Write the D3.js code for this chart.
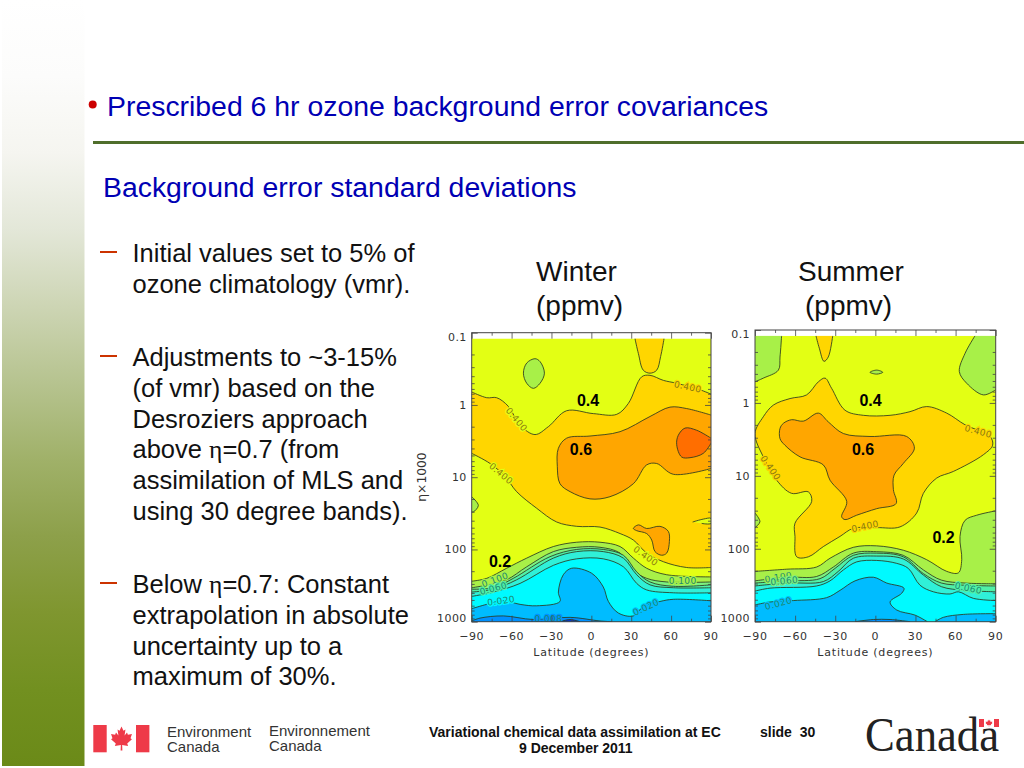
<!DOCTYPE html>
<html>
<head>
<meta charset="utf-8">
<script src="https://cdn.jsdelivr.net/npm/d3@7"></script>
<style>
html,body{margin:0;padding:0;background:#fff;}
svg{display:block;font-family:"Liberation Sans",Arial,sans-serif;}
</style>
</head>
<body>
<div id="chart"></div>
<script>
// ---------- text content ----------
const slideTitle = "Prescribed 6 hr ozone background error covariances";
const slideSubtitle = "Background error standard deviations";
const bulletBlocks = [
  ["Initial values set to 5% of", "ozone climatology (vmr)."],
  ["Adjustments to ~3-15%", "(of vmr) based on the", "Desroziers approach", "above η=0.7 (from", "assimilation of MLS and", "using 30 degree bands)."],
  ["Below η=0.7: Constant", "extrapolation in absolute", "uncertainty up to a", "maximum of 30%."]
];
const latTicks = [-90,-60,-30,0,30,60,90];
const latMinorTicks = [-75,-45,-15,15,45,75];
const etaTicks = [0.1,1,10,100,1000];
const etaLabels = ["0.1","1","10","100","1000"];

// ---------- contours: [latitude, log10(eta*1000)] ----------
const winterGoldTop = [[-90,-.18],[-78.7,-.10],[-71.2,-.10],[-62.4,.02],[-53.6,.28],[-42.4,.41],[-32.3,.30],[-18.6,.08],[1.5,.12],[19.1,.13],[27.8,-.02],[37.9,-.39],[44.1,-.41],[54.2,-.34],[64.2,-.30],[81.7,-.21],[90,-.15]];
const winterGoldBottom = [[90,2.25],[71.7,2.25],[54.2,2.17],[41.6,2.05],[31.6,1.87],[21.6,1.78],[6.5,1.69],[-11,1.68],[-26.1,1.62],[-41.1,1.43],[-56.2,1.20],[-64.9,.99],[-76.2,.81],[-90,.67]];
const winterGoldCap = [[32.8,-.92],[35.4,-.71],[39.1,-.48],[44.1,-.44],[49.1,-.48],[52.1,-.67],[54.7,-.92]];
const winterSliver = [[76.2,1.62],[84.2,1.58],[90,1.57],[90,1.64],[83,1.64]];
const winterGreenBlob = [[-42.4,-.64],[-38.6,-.60],[-35.3,-.44],[-38.6,-.30],[-43.6,-.23],[-48.6,-.30],[-51.1,-.44],[-48.6,-.58]];
const winterGreenEdge = [[-90,1.27],[-85,1.39],[-88.7,1.48],[-90,1.48]];
const winterOrange = [[90,.14],[71.7,.05],[59.2,.03],[44.1,.16],[21.6,.37],[-1,.43],[-18.6,.46],[-24.8,.60],[-25.6,.85],[-23.6,1.09],[-16,1.20],[-1,1.30],[14,1.27],[31.6,1.09],[41.6,.83],[49.1,.81],[61.7,.96],[90,.88]];
const winterOrangeLow = [[31.6,1.71],[35.4,1.66],[41.6,1.71],[51.6,1.68],[57.9,1.75],[58.7,1.89],[56.7,2.05],[52.9,2.08],[47.9,2.03],[45.4,1.87],[41.6,1.78],[34.1,1.74]];
const winterDeepOrange = [[90,.46],[79.2,.35],[70.5,.32],[65.4,.42],[64.2,.55],[67.9,.72],[74.2,.73],[84.2,.67],[90,.53]];
const winterL200 = [[-90,2.44],[-78.7,2.40],[-63.7,2.26],[-48.6,2.12],[-28.6,1.96],[-11,1.90],[6.5,1.90],[21.6,1.96],[31.6,2.12],[41.6,2.26],[56.7,2.35],[90,2.38]];
const winterL100 = [[-90,2.53],[-77.5,2.49],[-63.7,2.42],[-48.6,2.24],[-28.6,2.03],[-11,1.97],[6.5,1.97],[21.6,2.05],[31.6,2.29],[41.6,2.40],[56.7,2.45],[90,2.45]];
const winterL080 = [[-90,2.55],[-73.7,2.53],[-58.7,2.40],[-31.1,2.10],[-11,2.00],[9,2.00],[24.1,2.08],[34.1,2.31],[44.1,2.45],[61.7,2.51],[90,2.49]];
const winterL060 = [[-90,2.59],[-73.7,2.55],[-56.2,2.42],[-28.6,2.12],[-11,2.03],[9,2.03],[24.1,2.12],[34.1,2.35],[44.1,2.49],[61.7,2.53],[90,2.53]];
const winterL040 = [[-90,2.65],[-73.7,2.59],[-53.6,2.47],[-28.6,2.22],[-11,2.13],[9,2.13],[24.1,2.24],[34.1,2.47],[41.6,2.56],[61.7,2.60],[90,2.60]];
const winterL020 = [[-90,2.82],[-78.7,2.76],[-66.2,2.71],[-53.6,2.76],[-41.1,2.78],[-23.6,2.72],[-24.8,2.59],[-21.1,2.35],[-14.8,2.26],[.3,2.33],[9,2.52],[12.8,2.72],[20.3,2.88],[31.6,2.92],[39.1,2.79],[51.6,2.72],[61.7,2.69],[90,2.71]];
const winterL010 = [[-90,2.99],[-83.7,2.95],[-66.2,2.92],[-43.6,2.97],[-16,2.94],[6.5,2.99],[15.3,3.0]];
const winterL006 = [[-23.6,3],[-16,2.97],[-8.5,3]];

const summerGreenLeft = [[-70.1,-.92],[-71.3,-.63],[-72.5,-.45],[-83.8,-.34],[-90,-.29]];
const summerGreenRight = [[74.5,-.92],[67.1,-.68],[62.8,-.43],[68.3,-.27],[80.8,-.11],[90,-.18]];
const summerGreenSpot = [[-4,-.42],[1,-.45],[5.5,-.42],[1,-.395]];
const summerGreenEdge = [[-90,1.51],[-86.3,1.63],[-90,1.71]];
const summerGold = [[-90,.42],[-83.8,.19],[-76.3,.03],[-63.8,-.06],[-51.4,-.11],[-42.6,-.29],[-37.6,-.34],[-32.7,-.20],[-22.7,.10],[-9,.17],[11,.17],[25.9,.12],[38.4,.05],[53.4,.14],[67.1,.30],[85.8,.46],[87.7,.58],[80.8,.71],[58.3,.94],[45.9,1.03],[35.9,1.24],[30.9,1.51],[18.4,1.70],[1,1.71],[-16.5,1.72],[-26.4,1.83],[-38.9,1.97],[-50.1,2.11],[-58.8,2.11],[-60.1,1.83],[-60.1,1.65],[-47.6,1.35],[-50.1,1.22],[-62.6,1.24],[-73.8,1.06],[-83.8,.74]];
const summerGoldCap = [[-44.4,-.92],[-41.9,-.75],[-38.4,-.57],[-35.2,-.63],[-31.9,-.92]];
const summerOrange = [[-71.3,.35],[-68.8,.28],[-62.6,.23],[-53.9,.25],[-42.6,.14],[-35.2,.26],[-23.9,.42],[-4,.46],[23.4,.46],[29.2,.62],[20.9,.83],[14,.99],[13.5,1.19],[15.5,1.38],[1,1.45],[-14,1.54],[-22.7,1.60],[-25.2,1.56],[-21.4,1.35],[-33.9,1.06],[-38.9,.85],[-56.3,.74],[-67.6,.58],[-71.3,.49]];
const summerL200 = [[-90,2.31],[-66.3,2.28],[-43.9,2.25],[-33.9,2.13],[-16.5,1.98],[1,1.96],[20.9,2.02],[38.4,2.15],[53.4,2.31],[62.1,2.33],[64.6,2.15],[63.3,1.83],[67.1,1.61],[75.8,1.54],[90,1.48]];
const summerL100 = [[-90,2.44],[-66.3,2.39],[-43.9,2.38],[-31.4,2.25],[-16.5,2.06],[1,2.04],[20.9,2.09],[35.9,2.29],[49.4,2.43],[67.1,2.47],[90,2.48]];
const summerL080 = [[-90,2.47],[-66.3,2.44],[-41.4,2.41],[-30.2,2.27],[-16.5,2.09],[1,2.06],[20.9,2.11],[35.9,2.34],[49.4,2.47],[67.1,2.50],[90,2.51]];
const summerL060 = [[-90,2.51],[-66.3,2.47],[-38.9,2.45],[-27.7,2.31],[-16.5,2.13],[1,2.10],[20.9,2.14],[35.9,2.36],[49.4,2.52],[67.1,2.57],[90,2.59]];
const summerL040 = [[-90,2.58],[-78.8,2.54],[-43.9,2.51],[-33.9,2.44],[-23.9,2.29],[-14,2.18],[1,2.16],[16,2.20],[24.7,2.27],[33.4,2.50],[43.4,2.59],[55.8,2.62],[62.1,2.59],[73.3,2.68],[90,2.71]];
const summerL020 = [[-90,2.77],[-78.8,2.73],[-61.3,2.71],[-36.4,2.67],[-26.4,2.57],[-15.2,2.44],[-1.5,2.39],[8.5,2.47],[21.4,2.54],[19.7,2.61],[11,2.73],[16,2.84],[29.7,2.91],[38.9,3.0]];
const summerL020Right = [[44.6,3],[50.9,2.94],[65.8,2.90],[90,2.89]];
const summerL010 = [[-15.2,3],[-1.5,2.97],[11,2.97],[26,3]];

const winterLabels = [["0.400",72.5,-.25,12],["0.400",-56.2,.20,50],["0.400",-67.9,.95,40],["0.100",-72.5,2.42,-20],["0.060",-73.7,2.54,-15],["0.020",-67.9,2.71,-8],["0.400",40.9,2.09,35],["0.100",68.7,2.43,0],["0.020",41.1,2.80,-25],["0.008",-32.3,2.96,0]];
const summerLabels = [["0.400",77,.39,15],["0.400",-78.3,.89,55],["0.400",-7.7,1.69,-12],["0.100",-72.5,2.39,-10],["0.060",-68.1,2.44,-5],["0.020",-72.5,2.75,-15],["0.060",69.6,2.54,12]];
const winterAnnotations = [["0.4",-2.5,-.07],["0.6",-7.8,.61],["0.2",-68.7,2.17]];
const summerAnnotations = [["0.4",-3.6,-.04],["0.6",-9.2,.63],["0.2",51,1.84]];

// ---------- colours ----------
const colBase="#e3ff14", colGold="#ffd600", colOrange="#ffa600", colDeep="#ff6e00",
      colLime="#a8f048", colGreen="#7cf080", colMint="#50f0a8", colAqua="#30f0d8",
      colCyan="#00faff", colBlue="#00bcff", colRoyal="#0090ff", colNavy="#0038d0";
const winterLayers = [
  {c:colLime, s:[winterGreenBlob], closed:true},
  {c:colLime, s:[winterGreenEdge]},
  {c:colGold, s:[winterGoldTop,winterGoldBottom]},
  {c:colGold, s:[winterGoldCap]},
  {c:colBase, s:[winterSliver]},
  {c:colOrange, s:[winterOrange]},
  {c:colOrange, s:[winterOrangeLow], closed:true},
  {c:colDeep, s:[winterDeepOrange]},
  {c:colLime, s:[winterL200], floor:true},
  {c:colGreen, s:[winterL100], floor:true},
  {c:colMint, s:[winterL080], floor:true},
  {c:colAqua, s:[winterL060], floor:true},
  {c:colCyan, s:[winterL040], floor:true},
  {c:colBlue, s:[winterL020], floor:true},
  {c:colRoyal, s:[winterL010], floor:true},
  {c:colNavy, s:[winterL006], floor:true}
];
const summerLayers = [
  {c:colLime, s:[summerGreenLeft], corners:[[-90,-.92]]},
  {c:colLime, s:[summerGreenRight], corners:[[90,-.92]]},
  {c:colLime, s:[summerGreenEdge]},
  {c:colGold, s:[summerGold], closed:true},
  {c:colGold, s:[summerGoldCap]},
  {c:colLime, s:[summerGreenSpot], closed:true},
  {c:colOrange, s:[summerOrange], closed:true},
  {c:colLime, s:[summerL200], floor:true},
  {c:colGreen, s:[summerL100], floor:true},
  {c:colMint, s:[summerL080], floor:true},
  {c:colAqua, s:[summerL060], floor:true},
  {c:colCyan, s:[summerL040], floor:true},
  {c:colBlue, s:[summerL020], floor:true},
  {c:colBlue, s:[summerL020Right], floor:true},
  {c:colRoyal, s:[summerL010], floor:true}
];

// ---------- page ----------
const svg = d3.select("#chart").append("svg").attr("width",1024).attr("height",768);
const defs = svg.append("defs");
const grad = defs.append("linearGradient").attr("id","strip").attr("x1",0).attr("y1",0).attr("x2",0).attr("y2",1);
[[0,"#ffffff"],[.1,"#fcfcfb"],[.2,"#f5f5f0"],[.3,"#e3e7d8"],[.4,"#cdd5b4"],[.5,"#b6c38f"],[.6,"#a0b169"],[.7,"#8da04a"],[.8,"#7f962f"],[.9,"#729020"],[1,"#6b8a18"]]
  .forEach(d=>grad.append("stop").attr("offset",d[0]).attr("stop-color",d[1]));
svg.append("rect").attr("x",2).attr("y",0).attr("width",82.5).attr("height",766).attr("fill","url(#strip)");

svg.append("circle").attr("cx",92.7).attr("cy",104.5).attr("r",4).attr("fill","#cc0000");
svg.append("text").attr("x",107).attr("y",116).attr("font-size",28.4).attr("fill","#0000b4").text(slideTitle);
svg.append("rect").attr("x",93).attr("y",141).attr("width",931).attr("height",3).attr("fill","#4f6e2b");
svg.append("text").attr("x",103).attr("y",197).attr("font-size",28.4).attr("fill","#0000b4").text(slideSubtitle);

// body text
const blockTops=[262,366,593], lineGap=30.8;
bulletBlocks.forEach((lines,b)=>{
  svg.append("rect").attr("x",100).attr("y",blockTops[b]-11).attr("width",17).attr("height",2).attr("fill","#cc3300");
  lines.forEach((ln,i)=>{
    const t=svg.append("text").attr("x",132.5).attr("y",blockTops[b]+i*lineGap).attr("font-size",25.5).attr("fill","#111");
    const parts=ln.split("η");
    t.append("tspan").text(parts[0]);
    if(parts.length>1){
      t.append("tspan").attr("font-family","Liberation Serif").text("η");
      t.append("tspan").text(parts[1]);
    }
  });
});

// panel headings
[["Winter",536,281],["(ppmv)",536,315],["Summer",798,281],["(ppmv)",805,315]].forEach(d=>
  svg.append("text").attr("x",d[1]).attr("y",d[2]).attr("font-size",28).attr("fill","#111").text(d[0]));

// ---------- panels ----------
function drawPanel(o){
  const x=d3.scaleLinear().domain([-90,90]).range([o.left,o.right]);
  const y=d3.scaleLog().domain([0.1,1000]).range([o.top,o.bottom]);
  const px=p=>[x(p[0]),y(Math.pow(10,p[1]))];
  const g=svg.append("g").attr("font-family","DejaVu Sans");
  const clipId="clip"+o.id;
  const dataTop=y(Math.pow(10,-.92));
  defs.append("clipPath").attr("id",clipId).append("rect")
    .attr("x",x(-90)).attr("y",dataTop).attr("width",x(90)-x(-90)).attr("height",y(1000)-dataTop);
  const plot=g.append("g").attr("clip-path",`url(#${clipId})`);
  plot.append("rect").attr("x",x(-90)).attr("y",dataTop).attr("width",x(90)-x(-90)).attr("height",y(1000)-dataTop).attr("fill",colBase);
  const open=d3.line().x(p=>px(p)[0]).y(p=>px(p)[1]).curve(d3.curveCatmullRom.alpha(0.5));
  const shut=d3.line().x(p=>px(p)[0]).y(p=>px(p)[1]).curve(d3.curveCatmullRomClosed.alpha(0.5));
  const fills=[];
  o.layers.forEach(l=>{
    let d;
    if(l.closed){ d=shut(l.s[0]); }
    else{
      d=l.s.map((seg,i)=>{const q=open(seg);return i?("L"+q.slice(1)):q;}).join("");
      const ext=[];
      if(l.floor){const s=l.s[0];ext.push([s[s.length-1][0],3.1],[s[0][0],3.1]);}
      if(l.corners) l.corners.forEach(c=>ext.push(c));
      ext.forEach(c=>{const q=px(c);d+=`L${q[0]},${q[1]}`;});
      d+="Z";
    }
    const node=plot.append("path").attr("d",d).attr("fill",l.c).node();
    fills.push({node,c:l.c});
    l.s.forEach(seg=>{
      plot.append("path").attr("d",l.closed?shut(seg):open(seg)).attr("fill","none").attr("stroke","#2b3a20").attr("stroke-width",.85);
    });
  });
  // contour labels, each with a halo of the colour band it sits in, which breaks the line
  const colourAt=q=>{
    const pt=svg.node().createSVGPoint();pt.x=q[0];pt.y=q[1];
    for(let i=fills.length-1;i>=0;i--){ if(fills[i].node.isPointInFill(pt)) return fills[i].c; }
    return colBase;
  };
  o.labels.forEach(lb=>{
    const q=px([lb[1],lb[2]]);
    plot.append("text").attr("transform",`translate(${q[0]},${q[1]}) rotate(${lb[3]})`)
      .attr("text-anchor","middle").attr("dy","0.35em").attr("font-size",9).attr("letter-spacing",.4)
      .attr("fill",lb[0]==="0.400"?"#8a7a10":"#1c8a70")
      .attr("stroke",colourAt(q)).attr("stroke-width",2.4).attr("paint-order","stroke")
      .text(lb[0]);
  });
  // frame and axes
  g.append("rect").attr("x",x(-90)).attr("y",y(.1)).attr("width",x(90)-x(-90)).attr("height",y(1000)-y(.1)).attr("fill","none").attr("stroke","#444").attr("stroke-width",1);
  const style=a=>{a.select(".domain").remove();a.selectAll("line").attr("stroke","#444").attr("stroke-width",.8);};
  const ax=(gen,vals,len,tx)=>{
    const a=g.append("g").attr("transform",tx).call(gen.tickValues(vals).tickSize(-len).tickFormat(""));
    style(a);return a;
  };
  const minorEta=[];
  [.1,1,10,100].forEach(dec=>[2,3,4,5,6,7,8,9].forEach(m=>minorEta.push(dec*m)));
  ax(d3.axisBottom(x),latTicks,6,`translate(0,${y(1000)})`);
  ax(d3.axisBottom(x),latMinorTicks,3,`translate(0,${y(1000)})`);
  ax(d3.axisTop(x),latTicks,6,`translate(0,${y(.1)})`);
  ax(d3.axisTop(x),latMinorTicks,3,`translate(0,${y(.1)})`);
  ax(d3.axisLeft(y),etaTicks,6,`translate(${x(-90)},0)`);
  ax(d3.axisLeft(y),minorEta,3,`translate(${x(-90)},0)`);
  ax(d3.axisRight(y),etaTicks,6,`translate(${x(90)},0)`);
  ax(d3.axisRight(y),minorEta,3,`translate(${x(90)},0)`);
  // tick labels
  latTicks.forEach(v=>g.append("text").attr("x",x(v)).attr("y",o.bottom+18).attr("text-anchor","middle")
    .attr("font-size",11).attr("letter-spacing",.6).attr("fill","#333").text(v<0?"−"+(-v):v));
  etaTicks.forEach((v,i)=>{
    const nudge=i===0?o.topNudge:(i===4?-4:0);
    g.append("text").attr("x",x(-90)-5).attr("y",y(v)+nudge+4).attr("text-anchor","end")
      .attr("font-size",11).attr("letter-spacing",.4).attr("fill","#333").text(etaLabels[i]);
  });
  g.append("text").attr("x",(x(-90)+x(90))/2).attr("y",o.bottom+34.5).attr("text-anchor","middle")
    .attr("font-size",11).attr("letter-spacing",.8).attr("fill","#333").text("Latitude (degrees)");
  // annotations
  o.notes.forEach(n=>{
    const q=px([n[1],n[2]]);
    svg.append("text").attr("x",q[0]).attr("y",q[1]).attr("dy","0.36em").attr("text-anchor","middle")
      .attr("font-size",16).attr("font-weight","bold").attr("fill","#000").text(n[0]);
  });
}
drawPanel({id:"w",left:471.7,right:711,top:332.7,bottom:621.7,topNudge:4,layers:winterLayers,labels:winterLabels,notes:winterAnnotations});
drawPanel({id:"s",left:755,right:995.7,top:330,bottom:621.7,topNudge:4,layers:summerLayers,labels:summerLabels,notes:summerAnnotations});

// y axis title
svg.append("text").attr("transform","translate(426,477) rotate(-90)").attr("text-anchor","middle")
  .attr("font-size",12.3).attr("fill","#333").attr("font-family","DejaVu Sans").text("η×1000");

// ---------- footer ----------
const leaf="M0,-1 L.18,-.65 L.36,-.75 L.28,-.25 L.5,-.5 L.58,-.32 L.95,-.38 L.82,-.02 L.95,.06 L.52,.42 L.6,.62 L.06,.55 L.08,1 L-.08,1 L-.06,.55 L-.6,.62 L-.52,.42 L-.95,.06 L-.82,-.02 L-.95,-.38 L-.58,-.32 L-.5,-.5 L-.28,-.25 L-.36,-.75 L-.18,-.65 Z";
const flagRed="#ee3a48";
svg.append("rect").attr("x",93.3).attr("y",725).attr("width",13.4).attr("height",27.3).attr("fill",flagRed);
svg.append("rect").attr("x",136).attr("y",725).attr("width",13.4).attr("height",27.3).attr("fill",flagRed);
svg.append("path").attr("d",leaf).attr("transform","translate(121.5,738.5) scale(11,12)").attr("fill",flagRed);
[["Environment",167,737],["Canada",167,752],["Environnement",269,736],["Canada",269,751]].forEach(d=>
  svg.append("text").attr("x",d[1]).attr("y",d[2]).attr("font-size",15).attr("fill","#333").text(d[0]));
[["Variational chemical data assimilation at EC",429,737],["slide  30",760,737],["9 December 2011",519,753]].forEach(d=>
  svg.append("text").attr("x",d[1]).attr("y",d[2]).attr("font-size",14).attr("font-weight","bold").attr("fill","#111").style("white-space","pre").text(d[0]));
svg.append("text").attr("x",865).attr("y",751).attr("font-family","Liberation Serif").attr("font-size",48).attr("fill","#222")
  .attr("textLength",134).attr("lengthAdjust","spacingAndGlyphs").text("Canada");
svg.append("rect").attr("x",979).attr("y",719).attr("width",5).attr("height",8).attr("fill",flagRed);
svg.append("rect").attr("x",994).attr("y",719).attr("width",5).attr("height",8).attr("fill",flagRed);
svg.append("path").attr("d",leaf).attr("transform","translate(989,723) scale(3.6,3.6)").attr("fill",flagRed);
</script>
</body>
</html>
